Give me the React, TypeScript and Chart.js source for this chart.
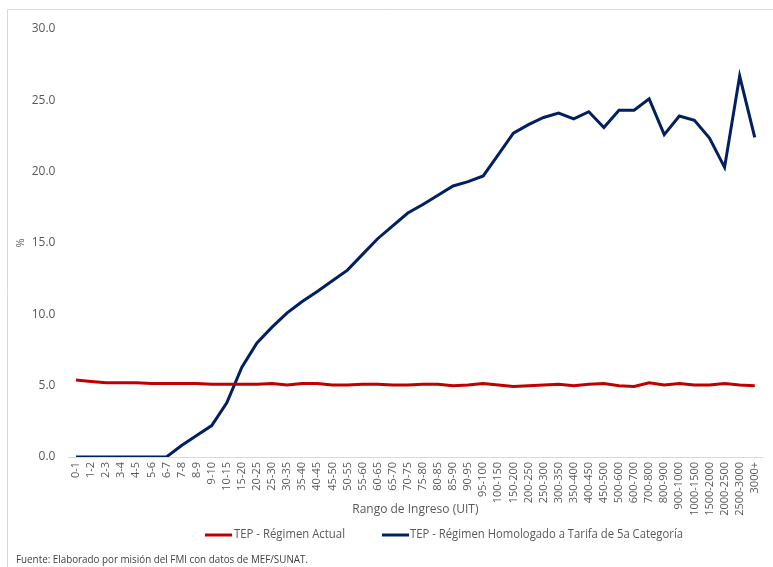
import React, { useEffect, useRef } from "react";
import { Chart, registerables } from "chart.js";

Chart.register(...registerables);

const categories = [
  "0-1","1-2","2-3","3-4","4-5","5-6","6-7","7-8","8-9","9-10",
  "10-15","15-20","20-25","25-30","30-35","35-40","40-45","45-50","50-55","55-60",
  "60-65","65-70","70-75","75-80","80-85","85-90","90-95","95-100","100-150","150-200",
  "200-250","250-300","300-350","350-400","400-450","450-500","500-600","600-700","700-800","800-900",
  "900-1000","1000-1500","1500-2000","2000-2500","2500-3000","3000+",
];

const regimenActual = [
  5.4, 5.3, 5.2, 5.2, 5.2, 5.15, 5.15, 5.15, 5.15, 5.1,
  5.1, 5.1, 5.1, 5.15, 5.05, 5.15, 5.15, 5.05, 5.05, 5.1,
  5.1, 5.05, 5.05, 5.1, 5.1, 5.0, 5.05, 5.15, 5.05, 4.95,
  5.0, 5.05, 5.1, 5.0, 5.1, 5.15, 5.0, 4.95, 5.2, 5.05,
  5.15, 5.05, 5.05, 5.15, 5.05, 5.0,
];

const regimenHomologado = [
  0, 0, 0, 0, 0, 0, 0, 0.8, 1.5, 2.2,
  3.8, 6.3, 8.0, 9.1, 10.1, 10.9, 11.6, 12.35, 13.1, 14.2,
  15.3, 16.2, 17.1, 17.7, 18.35, 19.0, 19.3, 19.7, 21.2, 22.7,
  23.3, 23.8, 24.1, 23.7, 24.2, 23.1, 24.3, 24.3, 25.1, 22.6,
  23.9, 23.6, 22.35, 20.3, 26.7, 22.4,
];

const yTicks = [0, 5, 10, 15, 20, 25, 30];

const seriesLabels = [
  "TEP - Régimen Actual",
  "TEP - Régimen Homologado a Tarifa de 5a Categoría",
];
const seriesColors = ["#C00000", "#002060"];

const FONT = "'Open Sans', 'Noto Sans', sans-serif";

const decorPlugin = {
  id: "decor",
  beforeDraw(chart: any) {
    const ctx = chart.ctx;
    ctx.save();
    ctx.strokeStyle = "#d9d9d9";
    ctx.lineWidth = 1;
    ctx.beginPath();
    ctx.moveTo(7.5, 567);
    ctx.lineTo(7.5, 9.5);
    ctx.lineTo(773, 9.5);
    ctx.stroke();
    ctx.restore();
  },
  afterDraw(chart: any) {
    const ctx = chart.ctx;
    ctx.save();
    const legendPos = [
      { lx: 205, tx: 234, w: 111 },
      { lx: 382, tx: 410, w: 273 },
    ];
    const ly = 535;
    chart.data.datasets.forEach((ds: any, i: number) => {
      const p = legendPos[i];
      ctx.strokeStyle = ds.borderColor;
      ctx.lineWidth = 3;
      ctx.beginPath();
      ctx.moveTo(p.lx, ly);
      ctx.lineTo(p.lx + 27, ly);
      ctx.stroke();
      ctx.fillStyle = "#595959";
      ctx.font = `12px ${FONT}`;
      ctx.textBaseline = "middle";
      ctx.textAlign = "left";
      ctx.fillText(ds.label, p.tx, ly, p.w);
    });
    ctx.fillStyle = "#404040";
    ctx.font = `11px ${FONT}`;
    ctx.textBaseline = "middle";
    ctx.fillText("Fuente: Elaborado por misión del FMI con datos de MEF/SUNAT.", 16, 560, 292);
    ctx.restore();
  },
};

export default function App() {
  const ref = useRef<HTMLCanvasElement | null>(null);
  useEffect(() => {
    if (!ref.current) return;
    const chart = new Chart(ref.current, {
      type: "line",
      data: {
        labels: categories,
        datasets: [
          {
            label: seriesLabels[0],
            data: regimenActual,
            borderColor: seriesColors[0],
            backgroundColor: seriesColors[0],
            borderWidth: 3,
            pointRadius: 0,
            tension: 0,
          },
          {
            label: seriesLabels[1],
            data: regimenHomologado,
            borderColor: seriesColors[1],
            backgroundColor: seriesColors[1],
            borderWidth: 3,
            pointRadius: 0,
            tension: 0,
          },
        ],
      },
      options: {
        animation: false,
        responsive: false,
        maintainAspectRatio: false,
        layout: { padding: { left: 0, right: 5.4, top: 29, bottom: 0 } },
        plugins: {
          legend: { display: false },
          tooltip: { enabled: false },
        },
        scales: {
          x: {
            type: "category",
            offset: true,
            grid: { display: false, drawTicks: false },
            border: { display: true, color: "#d9d9d9", width: 1 },
            ticks: {
              autoSkip: false,
              minRotation: 90,
              maxRotation: 90,
              padding: 5,
              color: "#595959",
              font: { family: FONT, size: 11 },
            },
            title: {
              display: true,
              text: "Rango de Ingreso (UIT)",
              color: "#595959",
              font: { family: FONT, size: 12 },
              padding: { top: 0, bottom: 50 },
            },
            afterFit(scale: any) {
              scale.height = 110;
            },
          },
          y: {
            min: 0,
            max: 30,
            afterBuildTicks(scale: any) {
              scale.ticks = yTicks.map((v) => ({ value: v }));
            },
            grid: { display: false, drawTicks: false },
            border: { display: false },
            ticks: {
              padding: 13,
              color: "#595959",
              font: { family: FONT, size: 12 },
              callback: (v: any) => Number(v).toFixed(1),
            },
            title: {
              display: true,
              text: "%",
              color: "#595959",
              font: { family: FONT, size: 11 },
              padding: { top: 14, bottom: 0 },
            },
            afterFit(scale: any) {
              scale.width = 68.4;
            },
          },
        },
      },
      plugins: [decorPlugin],
    } as any);
    return () => chart.destroy();
  }, []);
  return (
    <div style={{ position: "fixed", left: 0, top: 0, width: 773, height: 567, background: "#fff" }}>
      <canvas ref={ref} width={773} height={567} style={{ display: "block" }} />
    </div>
  );
}
